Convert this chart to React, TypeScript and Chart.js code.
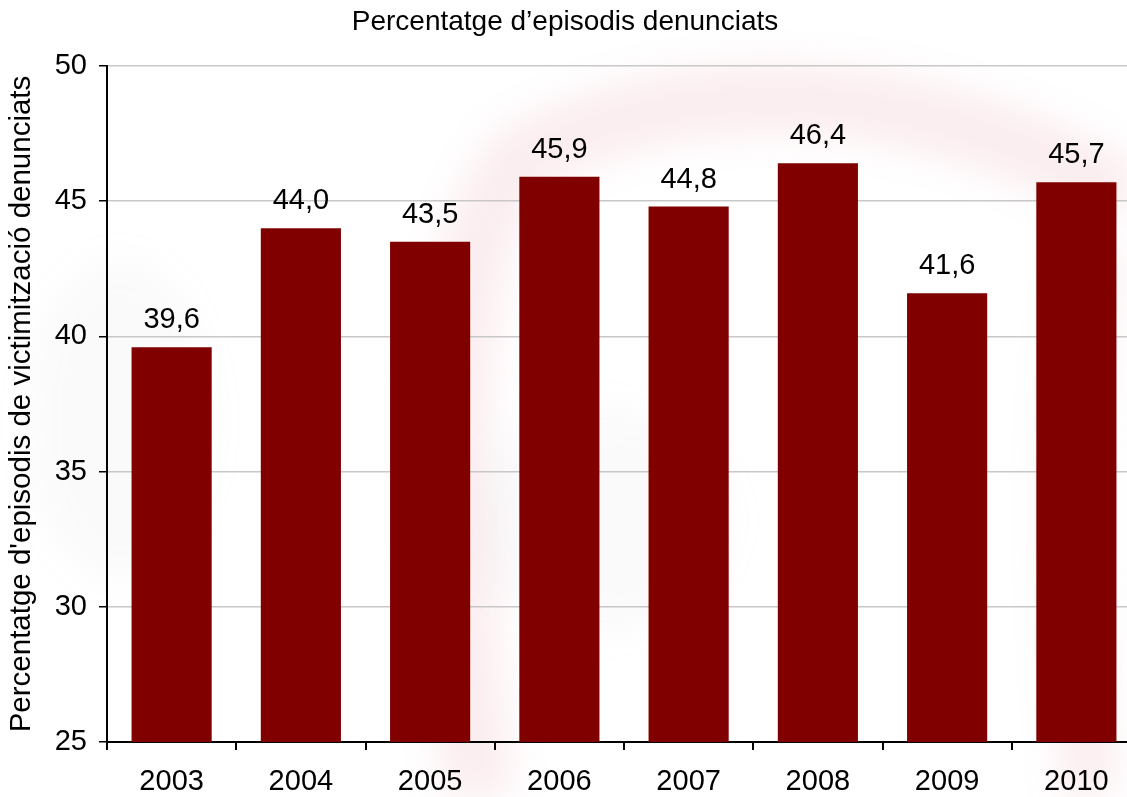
import React, { useEffect, useRef } from "react";
import { Chart, registerables } from "chart.js";

Chart.register(...registerables);

const categories = ["2003", "2004", "2005", "2006", "2007", "2008", "2009", "2010"];
const values = [39.6, 44.0, 43.5, 45.9, 44.8, 46.4, 41.6, 45.7];
const yMin = 25;
const yMax = 50;
const yStep = 5;
const chartTitle = "Percentatge d\u2019episodis denunciats";
const yTitle = "Percentatge d'episodis de victimització denunciats";

const FONT = "'Liberation Sans', Arial, sans-serif";
const CANVAS_W = 1145;
const CANVAS_H = 797;

const backgroundPlugin = {
  id: "bgWatermark",
  beforeDraw(chart: any) {
    const ctx = chart.ctx;
    ctx.save();
    ctx.fillStyle = "#ffffff";
    ctx.fillRect(0, 0, chart.width, chart.height);
    ctx.filter = "blur(18px)";
    // faint grey blobs
    ctx.fillStyle = "rgba(150,150,150,0.05)";
    ctx.beginPath();
    ctx.ellipse(600, 520, 130, 110, 0, 0, Math.PI * 2);
    ctx.fill();
    ctx.beginPath();
    ctx.ellipse(120, 420, 90, 160, 0, 0, Math.PI * 2);
    ctx.fill();
    // faint pink swirl
    ctx.strokeStyle = "rgba(220,90,110,0.11)";
    ctx.lineWidth = 70;
    ctx.beginPath();
    ctx.moveTo(480, 797);
    ctx.bezierCurveTo(440, 500, 440, 250, 520, 160);
    ctx.bezierCurveTo(700, 60, 950, 90, 1127, 200);
    ctx.stroke();
    ctx.lineWidth = 55;
    ctx.beginPath();
    ctx.moveTo(1090, 797);
    ctx.bezierCurveTo(1070, 600, 1060, 400, 1100, 250);
    ctx.stroke();
    ctx.restore();
  },
};

const textPlugin = {
  id: "texts",
  afterDatasetsDraw(chart: any) {
    const ctx = chart.ctx;
    const meta = chart.getDatasetMeta(0);
    ctx.save();
    ctx.fillStyle = "#000000";
    ctx.font = `29px ${FONT}`;
    ctx.textAlign = "center";
    ctx.textBaseline = "alphabetic";
    meta.data.forEach((bar: any, i: number) => {
      const label = values[i].toFixed(1).replace(".", ",");
      ctx.fillText(label, bar.x, bar.y - 19);
    });
    ctx.restore();
  },
  afterDraw(chart: any) {
    const ctx = chart.ctx;
    const area = chart.chartArea;
    ctx.save();
    ctx.fillStyle = "#000000";
    ctx.font = `28px ${FONT}`;
    ctx.textAlign = "center";
    ctx.textBaseline = "middle";
    ctx.fillText(chartTitle, 565, 22);
    ctx.font = `29.5px ${FONT}`;
    ctx.translate(22, (area.top + area.bottom) / 2);
    ctx.rotate(-Math.PI / 2);
    ctx.fillText(yTitle, 0, 0);
    ctx.restore();
  },
};

export default function App() {
  const canvasRef = useRef<HTMLCanvasElement | null>(null);

  useEffect(() => {
    const canvas = canvasRef.current;
    if (!canvas) return;
    const chart = new Chart(canvas, {
      type: "bar",
      data: {
        labels: categories,
        datasets: [
          {
            data: values,
            backgroundColor: "#800000",
            borderWidth: 0,
            categoryPercentage: 1,
            barPercentage: 0.62,
          },
        ],
      },
      options: {
        animation: false,
        responsive: false,
        devicePixelRatio: 1,
        layout: { padding: { top: 66, left: 0, right: CANVAS_W - 1141, bottom: 0 } },
        plugins: {
          legend: { display: false },
          title: { display: false },
          tooltip: { enabled: false },
        },
        scales: {
          x: {
            offset: true,
            afterFit(scale: any) {
              scale.height = CANVAS_H - 742;
            },
            grid: {
              offset: true,
              drawOnChartArea: false,
              drawTicks: true,
              tickLength: 8,
              tickColor: "#000000",
              color: "#000000",
              lineWidth: 2,
            },
            border: { display: true, color: "#000000", width: 2 },
            ticks: {
              color: "#000000",
              font: { family: FONT, size: 29 },
              padding: 15,
              maxRotation: 0,
            },
          },
          y: {
            min: yMin,
            max: yMax,
            afterFit(scale: any) {
              scale.width = 107;
            },
            grid: {
              color: "#c8c8c8",
              lineWidth: 1.5,
              tickLength: 8,
              tickColor: "#000000",
            },
            border: { display: true, color: "#000000", width: 2 },
            ticks: {
              stepSize: yStep,
              color: "#000000",
              font: { family: FONT, size: 29 },
              padding: 12,
            },
          },
        },
      },
      plugins: [backgroundPlugin, textPlugin],
    });
    return () => chart.destroy();
  }, []);

  return (
    <div
      style={{
        position: "fixed",
        left: 0,
        top: 0,
        width: 1127,
        height: 797,
        overflow: "hidden",
        background: "#ffffff",
      }}
    >
      <canvas
        ref={canvasRef}
        width={CANVAS_W}
        height={CANVAS_H}
        style={{ display: "block", width: CANVAS_W, height: CANVAS_H }}
      />
    </div>
  );
}
